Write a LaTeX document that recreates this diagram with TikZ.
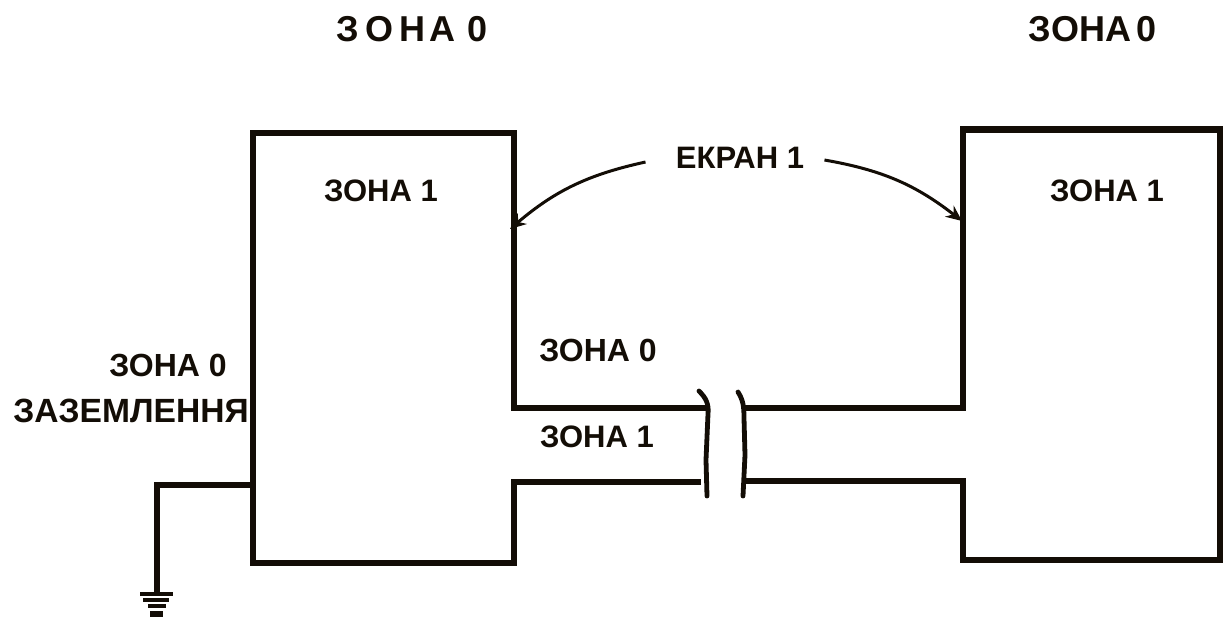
\documentclass[tikz,border=0pt]{standalone}
\usepackage{fontspec}
\setmainfont{Liberation Sans}
\usetikzlibrary{arrows.meta}
\begin{document}
\begin{tikzpicture}[x=0.5pt,y=-0.5pt,
  wall/.style={line width=3.2pt,line join=miter,black!90!brown},
  wire/.style={line width=2.6pt,black!90!brown},
  brk/.style={line width=2.4pt,line cap=round,black!90!brown},
  arr/.style={line width=1.5pt,black!90!brown,-{Stealth[length=8pt,width=7pt]}},
  lbl/.style={inner sep=0pt,font=\bfseries\fontsize{15.5pt}{18pt}\selectfont,text=black!90!brown},
  big/.style={inner sep=0pt,font=\bfseries\fontsize{18pt}{21pt}\selectfont,text=black!90!brown}]
\useasboundingbox (0,0) rectangle (1227,623);
% left box
\draw[wall] (708,408) -- (514,408) -- (514,133) -- (253,133) -- (253,563) -- (514,563) -- (514,482) -- (701,482);
% right box
\draw[wall] (744,408) -- (963,408) -- (963,129.5) -- (1220,129.5) -- (1220,560) -- (963,560) -- (963,481) -- (746,481);
% break marks
\draw[brk] (699,391) .. controls (706,398) and (709,404) .. (708,414) -- (706,460) -- (707,496);
\draw[brk] (738,392) .. controls (743,400) and (744,406) .. (744,418) -- (745,455) -- (743,496);
% ground
\coordinate (gnd) at (157,594);
\draw[wire] (253,485) -- (157,485) -- (gnd);
\draw[line width=2pt,black!90!brown] (140,594) -- (173,594)
  (143,600) -- (169,600) (148,606) -- (166,606);
\fill[black!90!brown] (150,611) rectangle (163,617);
% labels
\node[big] (t0) at (412,29) {З\kern3pt О\kern3pt Н\kern2pt А\kern6pt 0};
\node[big] (t1) at (1093,29) {ЗОНА\kern3pt0};
\node[lbl] (z1l) at (381,191) {ЗОНА 1};
\node[lbl] (z1r) at (1107,191) {ЗОНА 1};
\node[lbl,font=\bfseries\fontsize{16pt}{18pt}\selectfont] (z0m) at (598,350) {ЗОНА 0};
\node[lbl] (z1m) at (597,437) {ЗОНА 1};
\node[lbl,font=\bfseries\fontsize{16pt}{18pt}\selectfont] (z0g) at (168,365) {ЗОНА 0};
\node[lbl,font=\bfseries\fontsize{16.8pt}{18pt}\selectfont] (zaz) at (131,411) {ЗАЗЕМЛЕННЯ};
\node[lbl] (ekran) at (740,158) {ЕКРАН 1};
% arrows
\coordinate (tipL) at (510,229);
\coordinate (tipR) at (962,221);
\draw[arr] ([xshift=-15pt,yshift=-2pt]ekran.west) to[bend right=14] (tipL);
\draw[arr] ([xshift=10pt,yshift=-1pt]ekran.east) to[bend left=14] (tipR);
\end{tikzpicture}
\end{document}
